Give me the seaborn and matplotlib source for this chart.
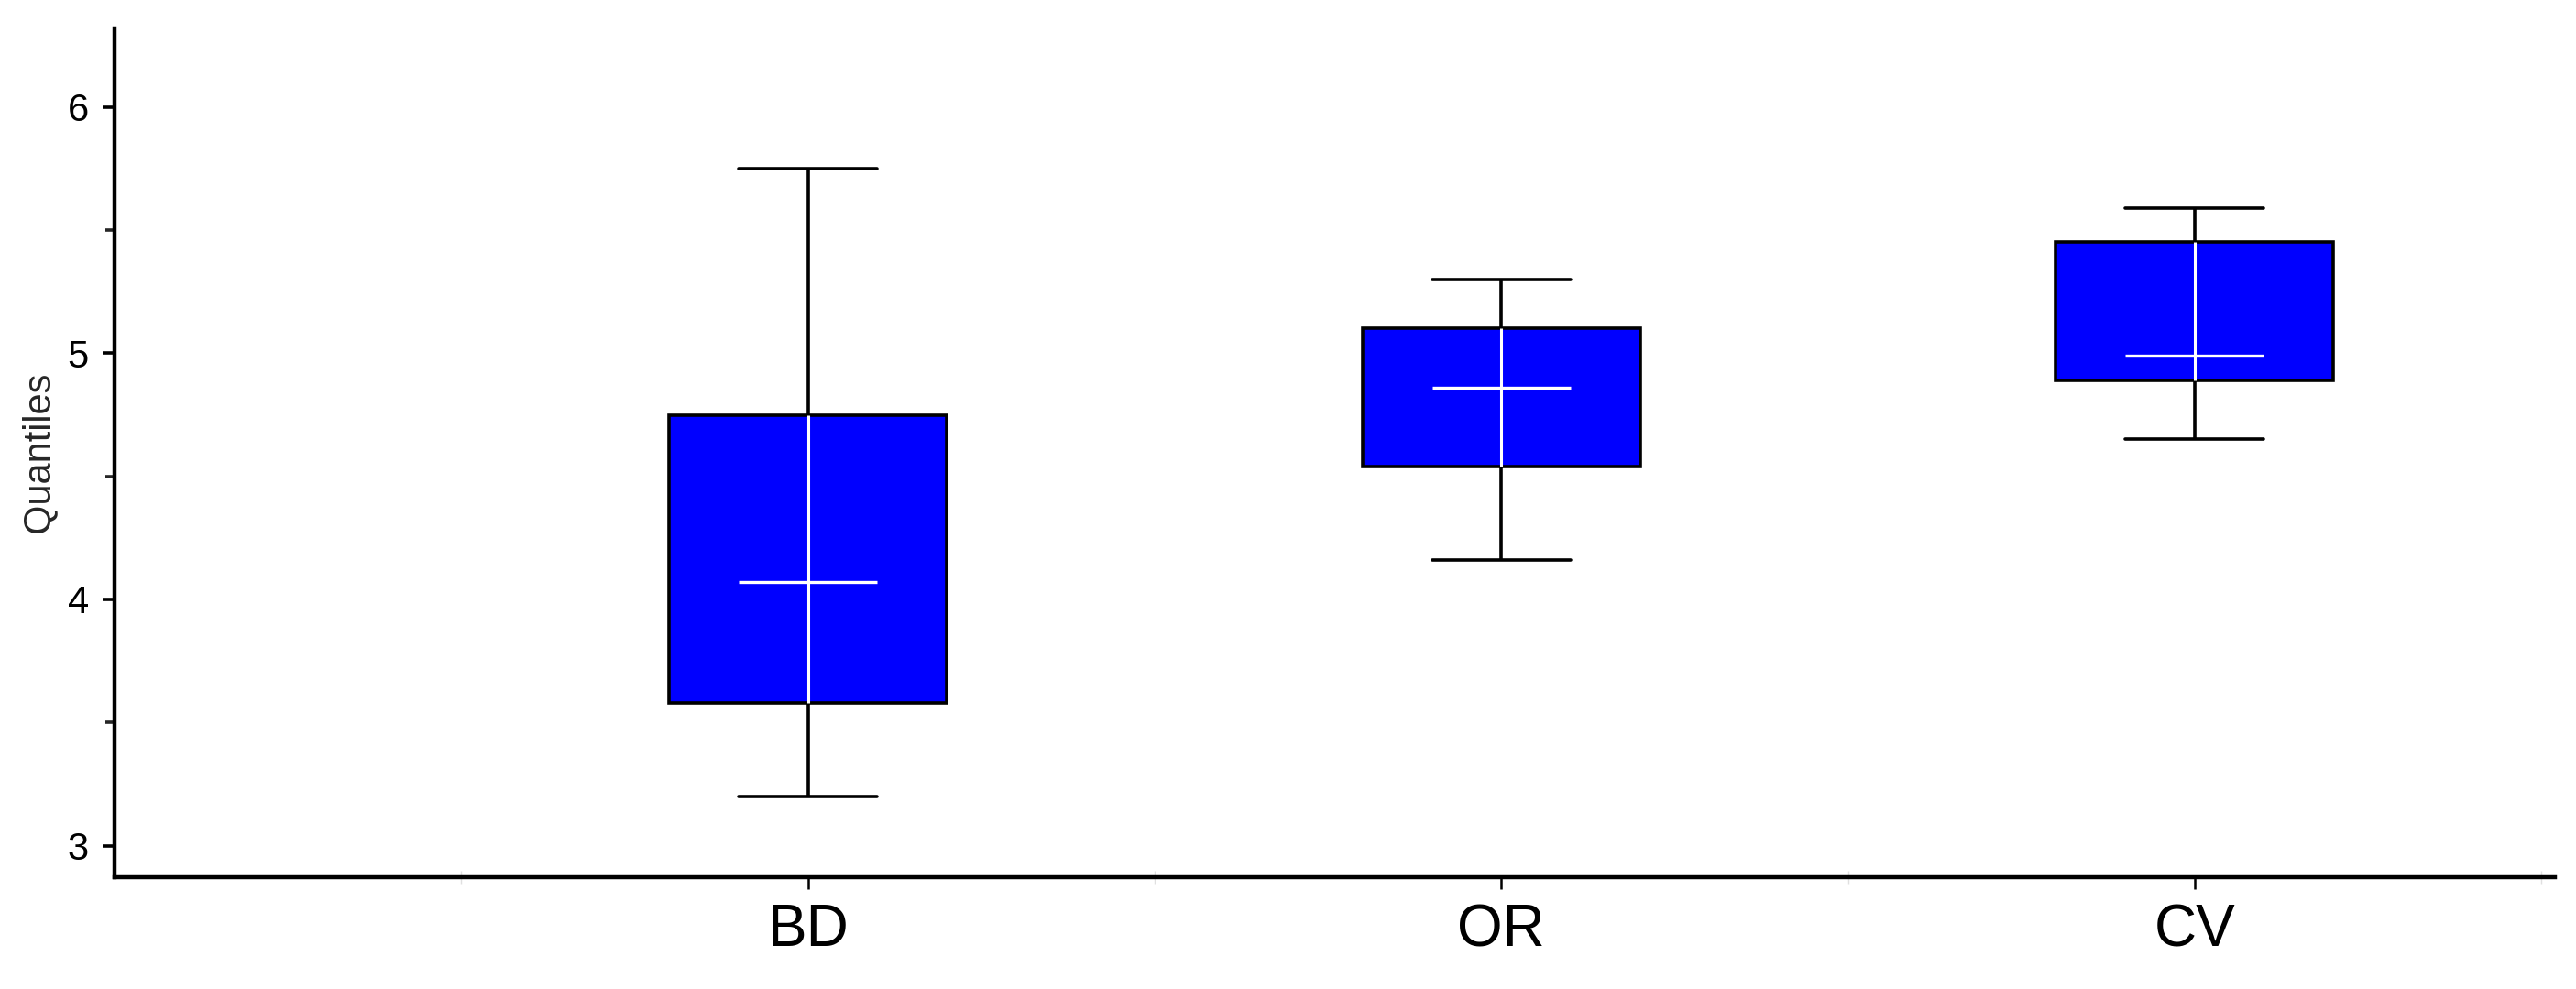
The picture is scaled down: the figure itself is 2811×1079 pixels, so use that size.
import numpy as np
import pandas as pd
import matplotlib
matplotlib.use("Agg")
import matplotlib.pyplot as plt
import seaborn as sns

# five-number summaries
categories = ['BD', 'OR', 'CV']
whisker_low = [3.20, 4.16, 4.65]
q1 = [3.58, 4.54, 4.89]
median = [4.07, 4.86, 4.99]
q3 = [4.75, 5.10, 5.45]
whisker_high = [5.75, 5.30, 5.59]

# five points per group give exactly these quartiles (whiskers at min/max)
rows = []
for i, cat in enumerate(categories):
    for v in [whisker_low[i], q1[i], median[i], q3[i], whisker_high[i]]:
        rows.append({'group': cat, 'value': v})
df = pd.DataFrame(rows)

sns.set_theme(style='white')
plt.rcParams['font.family'] = ['Liberation Sans', 'DejaVu Sans']

fig = plt.figure(figsize=(28.11, 10.79), dpi=100)
ax = fig.add_axes([0.0445, 0.1133, 0.9474, 0.8582])

sns.boxplot(data=df, x='group', y='value', order=categories, ax=ax,
            color='#0000FF', saturation=1, width=0.4, whis=(0, 100),
            linecolor='black', linewidth=2.6, showfliers=False,
            medianprops=dict(color='white', linewidth=2.4, zorder=4, gid='median'))

# median line only spans the cap width in the original
for line in ax.lines:
    if line.get_gid() == 'median':
        xd = np.asarray(line.get_xdata(), dtype=float)
        c = xd.mean()
        line.set_xdata(c + (xd - c) * 0.5)

# white whisker line continuing through the box
ax.vlines(range(len(categories)), q1, q3, colors='white', linewidth=2.2, zorder=3)

ax.set_xlim(-1.0, 2.52)
ax.set_ylim(2.873, 6.32)
ax.set_yticks([3, 4, 5, 6])
ax.set_yticks([3.5, 4.5, 5.5], minor=True)
ax.set_xticks([-0.5, 0.5, 1.5, 2.5], minor=True)

ax.set_xlabel('')
ax.set_ylabel('Quantiles', fontsize=30, labelpad=8)

for side in ['top', 'right']:
    ax.spines[side].set_visible(False)
for side in ['left', 'bottom']:
    ax.spines[side].set_linewidth(3.2)
    ax.spines[side].set_color('black')

ax.tick_params(axis='y', which='major', direction='out', length=9.4, width=2.6,
               labelsize=30, pad=11, left=True, colors='black')
ax.tick_params(axis='y', which='minor', direction='out', length=7, width=2.6, left=True)
ax.tick_params(axis='x', which='major', direction='out', length=9.4, width=1.8,
               labelsize=46, pad=11, bottom=True, colors='black')
ax.tick_params(axis='x', which='minor', direction='inout', length=10, width=1.0,
               color='#e0e0e0', bottom=True)

plt.savefig('out.png', dpi=100, facecolor='white')
plt.close()
